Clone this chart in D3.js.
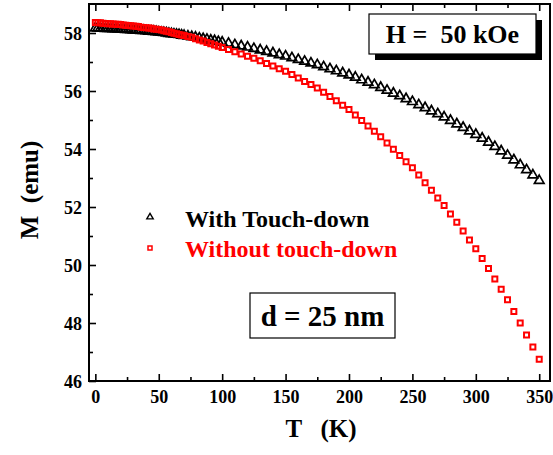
<!DOCTYPE html>
<html>
<head>
<meta charset="utf-8">
<script src="https://cdn.jsdelivr.net/npm/d3@7"></script>
</head>
<body style="margin:0">
<svg id="chart" width="553" height="455"></svg>
<script>
// Temperature sweep (K)
const temps = [
  0, 2, 4, 6, 8, 10, 12, 14, 16, 18, 20, 22, 24, 26, 28, 30, 32, 34, 36, 38,
  40, 42, 44, 46, 48, 50, 52, 54, 56, 58, 60, 62, 64, 66, 68, 70,
  73, 76, 79, 82, 85, 88, 91, 94, 97, 100,
  105, 110, 115, 120, 125, 130, 135, 140, 145, 150, 155, 160, 165, 170, 175,
  180, 185, 190, 195, 200, 205, 210, 215, 220, 225, 230, 235, 240, 245, 250,
  255, 260, 265, 270, 275, 280, 285, 290, 295, 300, 305, 310, 315, 320, 325,
  330, 335, 340, 345, 350
];

// Magnetization with touch-down (emu)
const magWith = [
  58.17, 58.17, 58.16, 58.16, 58.15, 58.15, 58.15, 58.14, 58.14, 58.13, 58.13, 58.13, 58.12, 58.12, 58.11, 58.10, 58.10, 58.09, 58.08, 58.08,
  58.07, 58.06, 58.06, 58.05, 58.04, 58.03, 58.02, 58.01, 58.00, 57.98, 57.97, 57.96, 57.95, 57.94, 57.92, 57.91,
  57.89, 57.87, 57.85, 57.82, 57.80, 57.78, 57.75, 57.73, 57.70, 57.68,
  57.64, 57.59, 57.55, 57.51, 57.46, 57.41, 57.36, 57.31, 57.25, 57.20, 57.14, 57.08, 57.02, 56.96, 56.90,
  56.83, 56.76, 56.69, 56.62, 56.55, 56.47, 56.38, 56.30, 56.21, 56.12, 56.02, 55.92, 55.83, 55.73, 55.63,
  55.52, 55.42, 55.31, 55.21, 55.10, 54.98, 54.86, 54.74, 54.62, 54.50, 54.37, 54.23, 54.08, 53.93, 53.78,
  53.62, 53.45, 53.28, 53.10, 52.91
];

// Magnetization without touch-down (emu)
const magWithout = [
  58.36, 58.35, 58.35, 58.34, 58.33, 58.32, 58.32, 58.31, 58.30, 58.30, 58.29, 58.28, 58.27, 58.26, 58.25, 58.24, 58.23, 58.22, 58.20, 58.19,
  58.18, 58.17, 58.16, 58.14, 58.13, 58.12, 58.10, 58.08, 58.06, 58.04, 58.02, 57.99, 57.97, 57.95, 57.93, 57.91,
  57.88, 57.85, 57.80, 57.76, 57.72, 57.67, 57.63, 57.59, 57.54, 57.50,
  57.43, 57.35, 57.28, 57.20, 57.13, 57.04, 56.95, 56.86, 56.77, 56.68, 56.57, 56.45, 56.33, 56.22, 56.10,
  55.96, 55.81, 55.66, 55.51, 55.36, 55.17, 54.98, 54.79, 54.61, 54.42, 54.21, 53.99, 53.78, 53.56, 53.35,
  53.10, 52.84, 52.58, 52.31, 52.05, 51.76, 51.47, 51.17, 50.86, 50.56, 50.22, 49.88, 49.52, 49.16, 48.80,
  48.40, 48.00, 47.59, 47.17, 46.75
];

// Axis ticks
const xMajor = [0, 50, 100, 150, 200, 250, 300, 350];
const xMinor = [25, 75, 125, 175, 225, 275, 325];
const yMajor = [46, 48, 50, 52, 54, 56, 58];
const yMinor = [47, 49, 51, 53, 55, 57];

const seriesNames = ["With Touch-down", "Without touch-down"];

const svg = d3.select("#chart");
const plot = { left: 89, right: 550, top: 4, bottom: 381 };

const x = d3.scaleLinear().domain([-5, 358.5]).range([plot.left, plot.right]);
const y = d3.scaleLinear().domain([46, 59]).range([plot.bottom, plot.top]);

// Every label is set in bold serif type
function label(sel, size) {
  return sel.attr("font-family", "Liberation Serif")
    .attr("font-weight", "bold")
    .attr("font-size", size)
    .attr("xml:space", "preserve");
}

// Bottom axis (major with labels, minor without)
svg.append("g").attr("transform", `translate(0,${plot.bottom})`)
  .call(d3.axisBottom(x).tickValues(xMajor).tickFormat(d3.format("d"))
    .tickSizeInner(-7).tickSizeOuter(0).tickPadding(9));
svg.append("g").attr("transform", `translate(0,${plot.bottom})`)
  .call(d3.axisBottom(x).tickValues(xMinor).tickFormat("").tickSizeInner(-4).tickSizeOuter(0));

// Top axis ticks (mirrored, no labels)
svg.append("g").attr("transform", `translate(0,${plot.top})`)
  .call(d3.axisTop(x).tickValues(xMajor).tickFormat("").tickSizeInner(-7).tickSizeOuter(0));
svg.append("g").attr("transform", `translate(0,${plot.top})`)
  .call(d3.axisTop(x).tickValues(xMinor).tickFormat("").tickSizeInner(-4).tickSizeOuter(0));

// Left axis
const gy = svg.append("g").attr("transform", `translate(${plot.left},0)`)
  .call(d3.axisLeft(y).tickValues(yMajor).tickFormat(d3.format("d"))
    .tickSizeInner(-7).tickSizeOuter(0).tickPadding(7));
svg.append("g").attr("transform", `translate(${plot.left},0)`)
  .call(d3.axisLeft(y).tickValues(yMinor).tickFormat("").tickSizeInner(-4).tickSizeOuter(0));

svg.selectAll(".domain").remove();
svg.selectAll("g").attr("font-family", null).attr("font-size", null);
svg.selectAll(".tick line").attr("stroke", "#000").attr("stroke-width", 1.6);
label(svg.selectAll(".tick text"), 18).attr("fill", "#000");
gy.selectAll(".tick text").attr("dy", "0.34em");

// Plot frame
svg.append("rect")
  .attr("x", plot.left).attr("y", plot.top)
  .attr("width", plot.right - plot.left).attr("height", plot.bottom - plot.top)
  .attr("fill", "none").attr("stroke", "#000").attr("stroke-width", 2);

// Data markers
const tri = d3.symbol().type(d3.symbolTriangle).size(40);
const sq = d3.symbol().type(d3.symbolSquare).size(25);

const withData = temps.map((t, i) => ({ t, m: magWith[i] }));
const withoutData = temps.map((t, i) => ({ t, m: magWithout[i] }));

svg.append("g").selectAll("path").data(withData).join("path")
  .attr("d", tri)
  .attr("transform", d => `translate(${x(d.t)},${y(d.m)})`)
  .attr("fill", "none").attr("stroke", "#000").attr("stroke-width", 1.7);

svg.append("g").selectAll("path").data(withoutData).join("path")
  .attr("d", sq)
  .attr("transform", d => `translate(${x(d.t)},${y(d.m)})`)
  .attr("fill", "none").attr("stroke", "#ff0000").attr("stroke-width", 2);

// Legend
svg.append("path").attr("d", d3.symbol().type(d3.symbolTriangle).size(18)())
  .attr("transform", "translate(150,217)")
  .attr("fill", "none").attr("stroke", "#000").attr("stroke-width", 1.4);
label(svg.append("text"), 24).attr("x", 185).attr("y", 227)
  .attr("fill", "#000").text(seriesNames[0]);
svg.append("path").attr("d", d3.symbol().type(d3.symbolSquare).size(16)())
  .attr("transform", "translate(150,248)")
  .attr("fill", "none").attr("stroke", "#ff0000").attr("stroke-width", 1.5);
label(svg.append("text"), 24).attr("x", 185).attr("y", 257)
  .attr("fill", "#ff0000").text(seriesNames[1]);

// Field annotation box with drop shadow
const hBox = { x: 369, y: 14, w: 167, h: 40 };
svg.append("rect").attr("x", hBox.x + 6).attr("y", hBox.y + 6)
  .attr("width", hBox.w).attr("height", hBox.h).attr("fill", "#000");
svg.append("rect").attr("x", hBox.x).attr("y", hBox.y)
  .attr("width", hBox.w).attr("height", hBox.h)
  .attr("fill", "#fff").attr("stroke", "#000").attr("stroke-width", 1.2);
label(svg.append("text"), 26).attr("x", hBox.x + hBox.w / 2).attr("y", 43)
  .attr("text-anchor", "middle").text("H =  50 kOe");

// Thickness annotation box
const dBox = { x: 250, y: 293, w: 145, h: 45 };
svg.append("rect").attr("x", dBox.x).attr("y", dBox.y)
  .attr("width", dBox.w).attr("height", dBox.h)
  .attr("fill", "#fff").attr("stroke", "#000").attr("stroke-width", 1.2);
label(svg.append("text"), 29).attr("x", dBox.x + dBox.w / 2).attr("y", 326)
  .attr("text-anchor", "middle").text("d = 25 nm");

// Axis titles
label(svg.append("text"), 25).attr("x", 321).attr("y", 437)
  .attr("text-anchor", "middle").text("T   (K)");
label(svg.append("text"), 25).attr("transform", "translate(38,190) rotate(-90)")
  .attr("text-anchor", "middle").text("M  (emu)");
</script>
</body>
</html>
